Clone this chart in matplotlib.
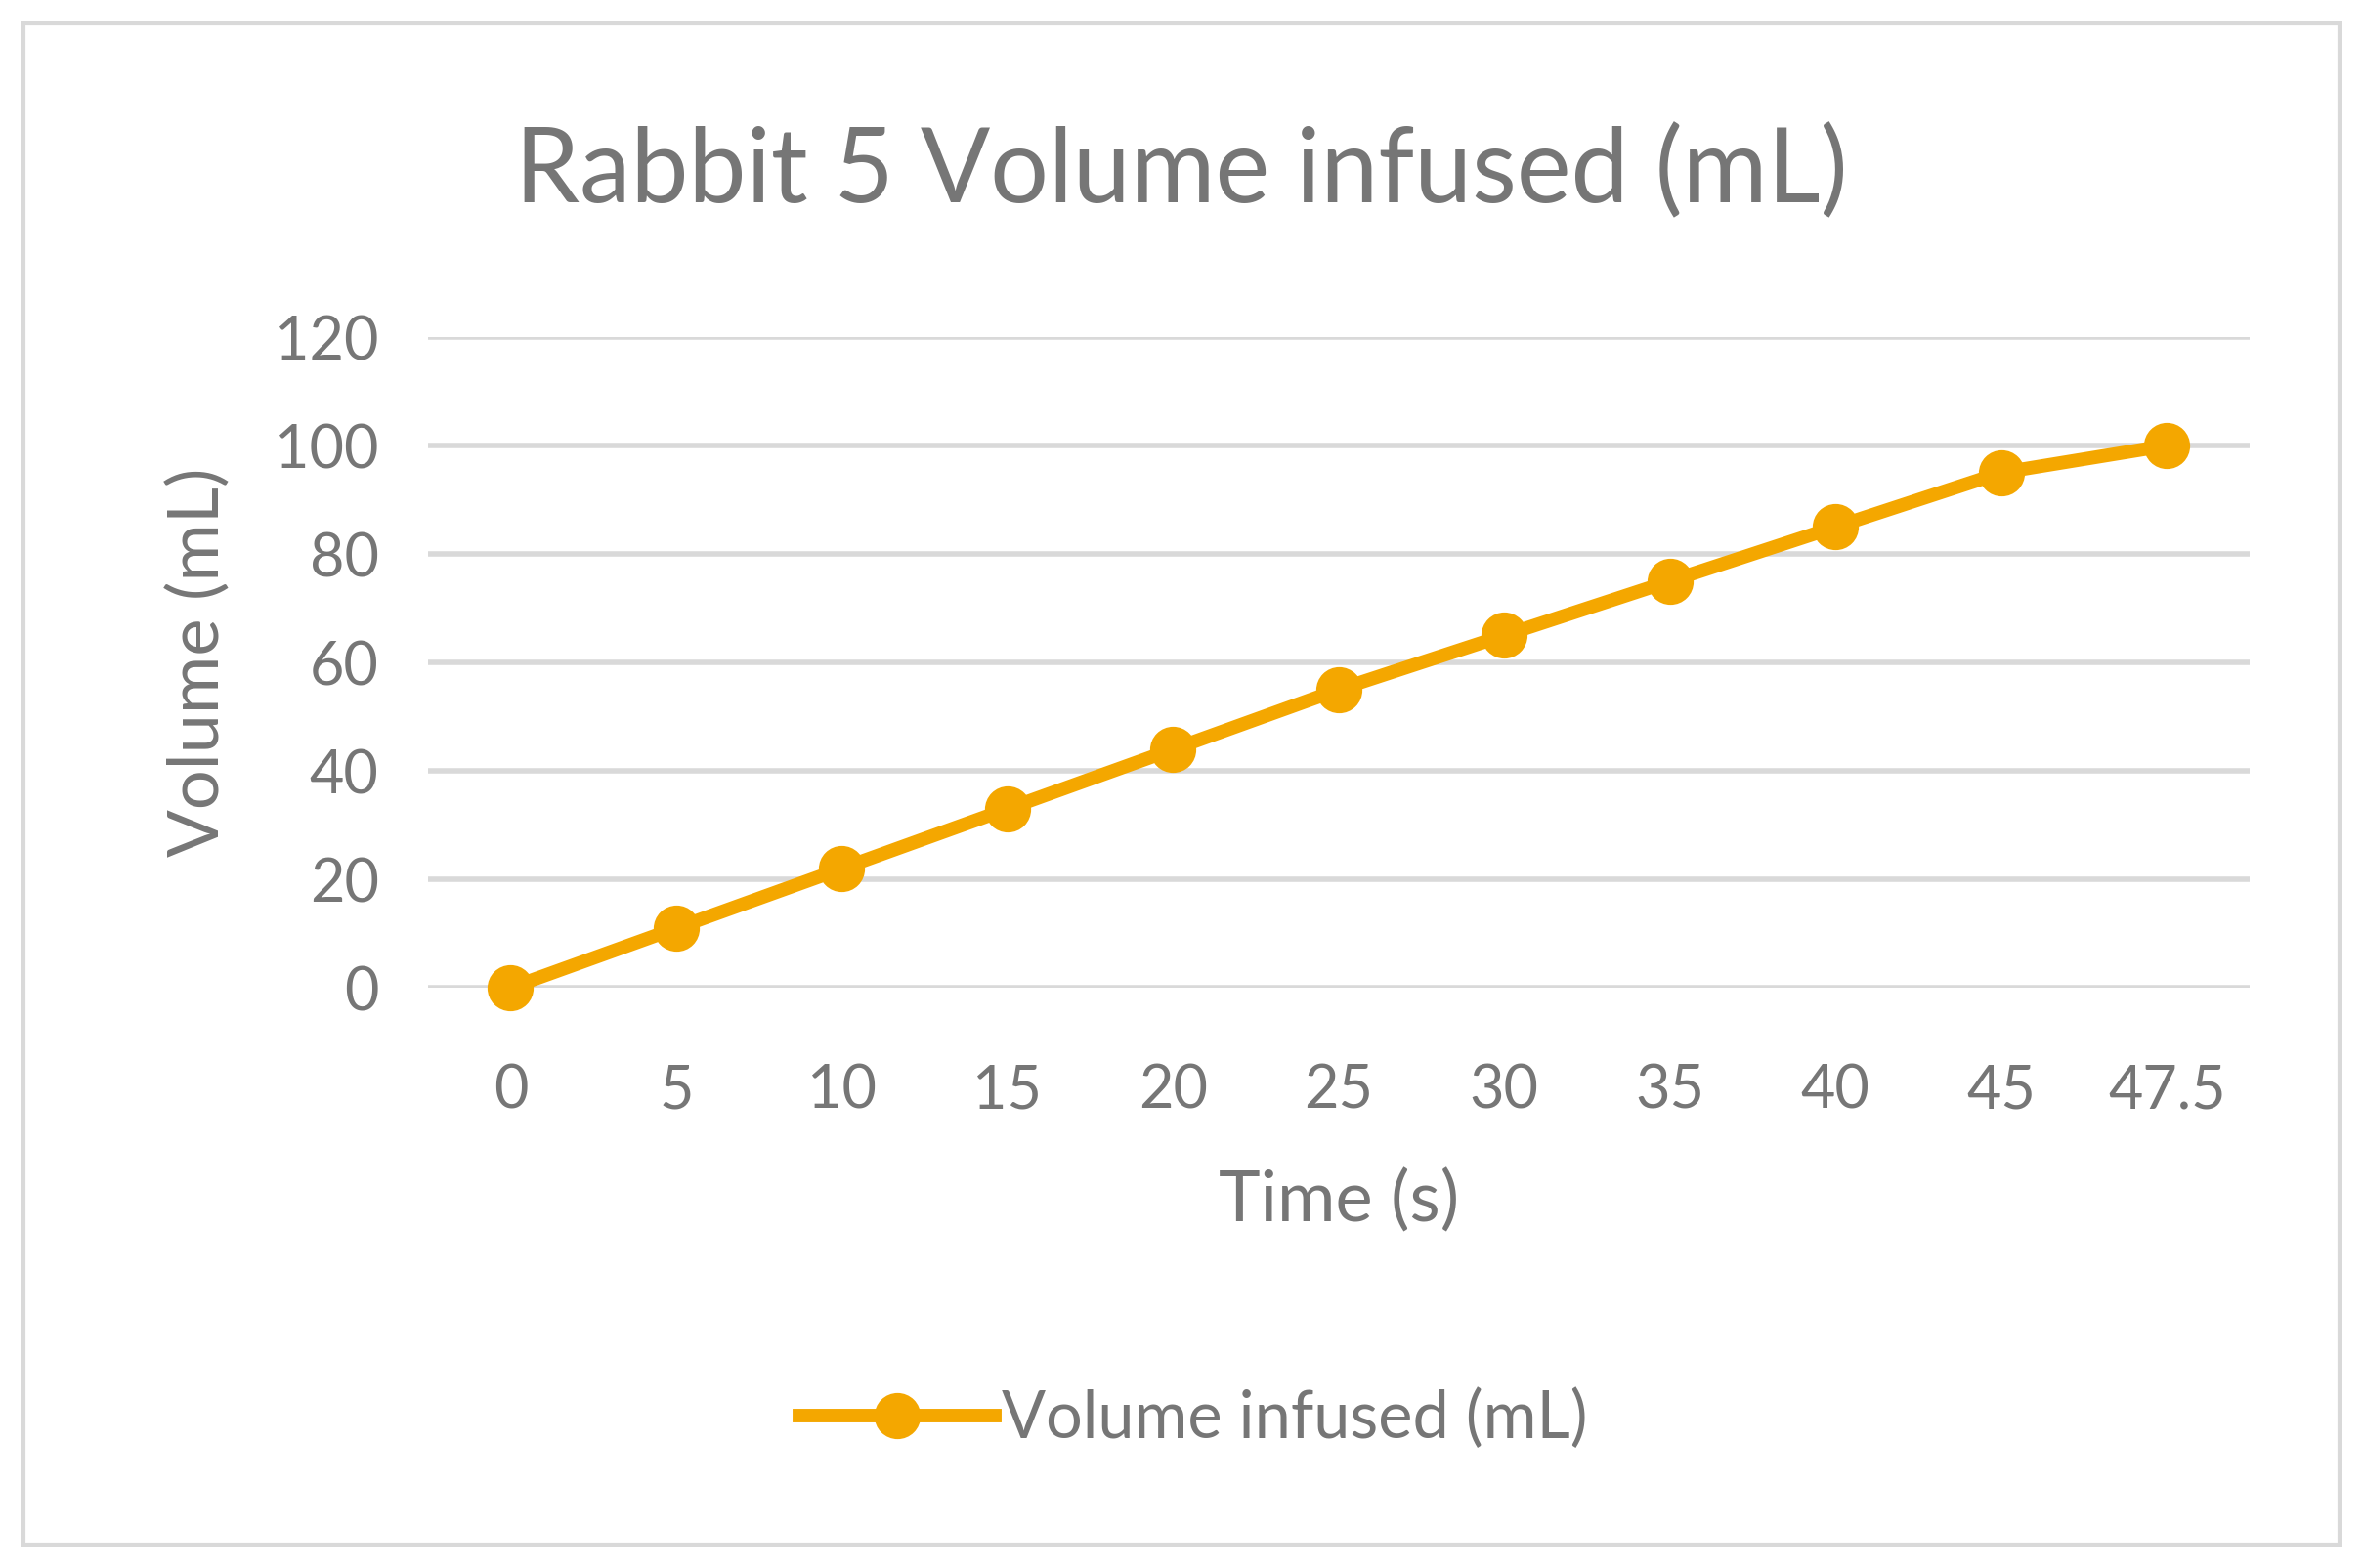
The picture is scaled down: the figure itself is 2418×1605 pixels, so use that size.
import matplotlib.pyplot as plt
from matplotlib.patches import Rectangle

plt.rcParams['font.family'] = ['Lato', 'DejaVu Sans']

time_labels = ['0', '5', '10', '15', '20', '25', '30', '35', '40', '45', '47.5']
volume = [0, 11, 22, 33, 44, 55, 65, 75, 85, 95, 100]

gray = '#767676'
orange = '#F4A700'

fig = plt.figure(figsize=(12.09, 8.025), dpi=200)
ax = fig.add_axes([0.181, 0.37, 0.771, 0.415])

x = list(range(len(time_labels)))
ax.plot(x, volume, color=orange, lw=5, marker='o', markersize=16,
        label='Volume infused (mL)')

ax.set_xlim(-0.5, len(x) - 0.5)
ax.set_ylim(0, 120)
ax.set_yticks(range(0, 121, 20))
ax.set_xticks(x)
ax.set_xticklabels(time_labels)
ax.grid(axis='y', color='#D9D9D9', lw=2)
ax.set_axisbelow(True)
for s in ax.spines.values():
    s.set_visible(False)
ax.tick_params(length=0, labelsize=22, labelcolor=gray, pad=18)
ax.tick_params(axis='x', pad=28)
ax.set_xlabel('Time (s)', fontsize=26, color=gray, labelpad=18)
ax.set_ylabel('Volume (mL)', fontsize=26, color=gray, labelpad=16)
for l in ax.lines:
    l.set_clip_on(False)

fig.text(0.5, 0.89, 'Rabbit 5 Volume infused (mL)', ha='center', va='center',
         fontsize=38, color=gray)
fig.legend(loc='center', bbox_to_anchor=(0.505, 0.095), frameon=False,
           fontsize=24, labelcolor=gray, handlelength=3, handletextpad=0.1)

fig.patches.append(Rectangle((0.01, 0.015), 0.98, 0.97, transform=fig.transFigure,
                             fill=False, edgecolor='#D9D9D9', lw=1.5))

fig.savefig('out.png')
